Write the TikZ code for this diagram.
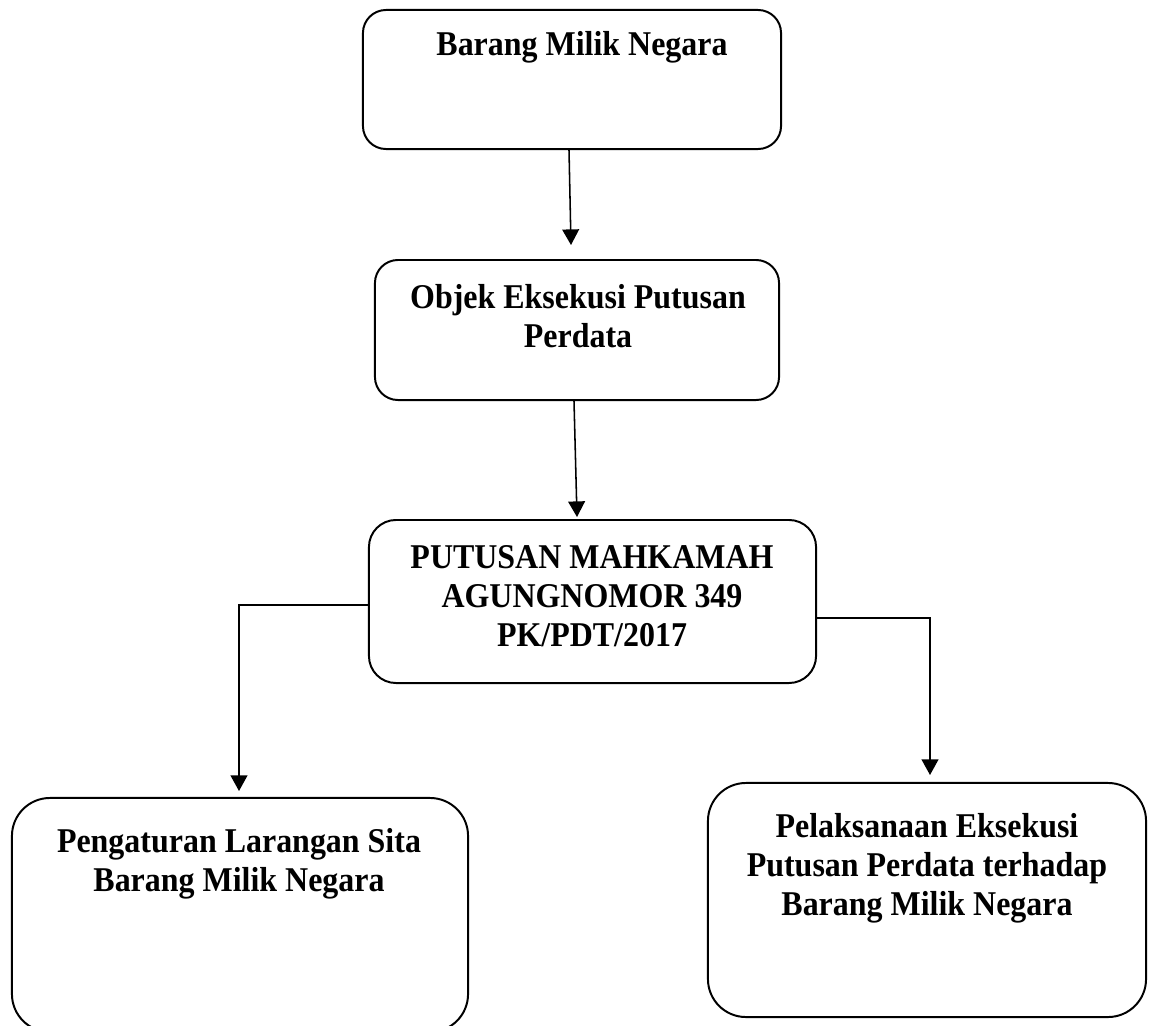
\documentclass[tikz,border=0pt]{standalone}
\usepackage{fontspec}
\setmainfont{Liberation Serif}[FakeStretch=0.92]
\usetikzlibrary{calc, arrows.meta}

\tikzset{
	kotak/.style={draw, line width=1.4pt, inner sep=0pt},
	tulisan/.style={anchor=north, align=center, inner sep=0pt, font=\fontsize{24.7pt}{27.7pt}\selectfont\bfseries},
	panah/.style={line width=1.1pt, -{Triangle[length=0.39cm, width=0.42cm]}}
}

\begin{document}
\begin{tikzpicture}[x=0.025cm, y=-0.025cm]
			\useasboundingbox (0,0) rectangle (1152,1026);
			\clip (0,0) rectangle (1152,1026);

			\node [kotak, rounded corners=0.575cm, minimum width=10.45cm, minimum height=3.475cm] (b1) at (572,79.5) {};
			\node [kotak, rounded corners=0.575cm, minimum width=10.1cm, minimum height=3.5cm] (b2) at (577,330) {};
			\node [kotak, rounded corners=0.675cm, minimum width=11.175cm, minimum height=4.075cm] (b3) at (592.5,601.5) {};
			\node [kotak, rounded corners=0.95cm, minimum width=11.4cm, minimum height=5.85cm] (b4) at (240,915) {};
			\node [kotak, rounded corners=0.95cm, minimum width=10.95cm, minimum height=5.85cm] (b5) at (927,900) {};

			\node [tulisan] (tx1) at (582,31) {Barang Milik Negara};
			\node [tulisan] (tx2) at (578,284) {Objek Eksekusi Putusan\\Perdata};
			\node [tulisan] (tx3) at (592,545) {PUTUSAN MAHKAMAH\\AGUNGNOMOR 349\\PK/PDT/2017};
			\node [tulisan] (tx4) at (239,828) {Pengaturan Larangan Sita\\Barang Milik Negara};
			\node [tulisan] (tx5) at (927,813) {Pelaksanaan Eksekusi\\Putusan Perdata terhadap\\Barang Milik Negara};

			\coordinate (u1) at (571,245);
			\coordinate (u2) at (577,517);
			\coordinate (sk) at (239,605);
			\coordinate (u4) at (239,791);
			\coordinate (sn) at (930,618);
			\coordinate (u5) at (930,775);

			\draw [panah] ($(b1.south)+(-3,0)$) to (u1);
			\draw [panah] ($(b2.south)+(-3,0)$) to (u2);
			\draw [panah] (b3.west |- sk) to (sk) to (u4);
			\draw [panah] (b3.east |- sn) to (sn) to (u5);
		\end{tikzpicture}
\end{document}
